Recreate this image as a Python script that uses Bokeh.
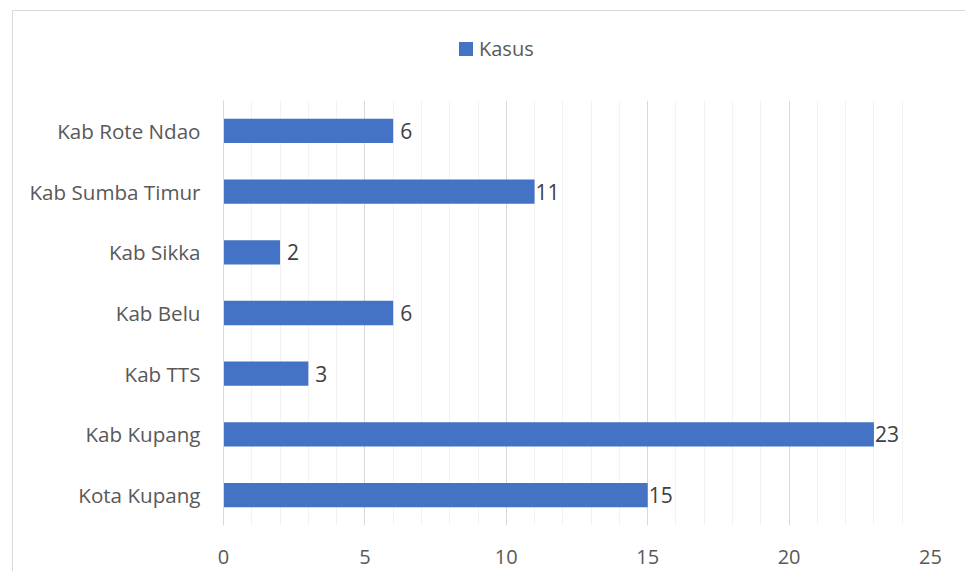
from bokeh.plotting import figure
from bokeh.models import (FactorRange, Range1d, SingleIntervalTicker, ColumnDataSource, Div)
from bokeh.layouts import column
from bokeh.core.properties import value
from bokeh.embed import file_html
from bokeh.resources import INLINE

categories = ["Kota Kupang", "Kab Kupang", "Kab TTS", "Kab Belu", "Kab Sikka",
              "Kab Sumba Timur", "Kab Rote Ndao"]
kasus = [15, 23, 3, 6, 2, 11, 6]
x_ticks = [0, 5, 10, 15, 20, 25]
series_name = "Kasus"

FONT = "Open Sans"
BAR = "#4472C4"

src = ColumnDataSource(dict(cat=categories, val=kasus, lab=[str(v) for v in kasus]))

legend_div = Div(
    width=952, height=76, margin=0,
    text=(
        f'<div style="display:flex;align-items:center;margin-left:446px;margin-top:26px;'
        f'height:24px;font-family:\'{FONT}\';font-size:20px;color:#595959;white-space:nowrap;">'
        f'<span style="display:inline-block;width:14px;height:14px;background:{BAR};'
        f'margin-right:6px;"></span><span>{series_name}</span></div>'
    ),
)

p = figure(width=952, height=484, output_backend="svg", toolbar_location=None,
           y_range=FactorRange(*categories, range_padding=0),
           x_range=Range1d(x_ticks[0], x_ticks[-1]),
           min_border_left=210, min_border_right=35, min_border_top=13,
           min_border_bottom=46, margin=0)
p.outline_line_color = None

p.hbar(y="cat", right="val", left=0, height=0.4, source=src,
       fill_color=BAR, line_color=None)
p.text(x="val", y="cat", text="lab", source=src, x_offset=13,
       text_align="center", text_baseline="middle", text_color="#404040",
       text_font=value(FONT), text_font_size="21px")

p.xaxis.ticker = SingleIntervalTicker(interval=5, num_minor_ticks=5)
p.xaxis.axis_line_color = None
p.xaxis.major_tick_line_color = None
p.xaxis.minor_tick_line_color = None
p.xaxis.major_label_standoff = 18
p.xaxis.major_label_text_font = FONT
p.xaxis.major_label_text_font_size = "20px"
p.xaxis.major_label_text_color = "#595959"

p.yaxis.axis_line_color = "#d9d9d9"
p.yaxis.major_tick_line_color = None
p.yaxis.minor_tick_line_color = None
p.yaxis.major_label_standoff = 17
p.yaxis.major_label_text_font = FONT
p.yaxis.major_label_text_font_size = "20.6px"
p.yaxis.major_label_text_color = "#595959"

p.ygrid.grid_line_color = None
p.xgrid.grid_line_color = "#d9d9d9"
p.xgrid.minor_grid_line_color = "#f2f2f2"

layout = column(legend_div, p, spacing=0)
layout.styles = {"margin-left": "12px", "margin-top": "10px",
                 "border-left": "1px solid #d9d9d9", "border-top": "1px solid #d9d9d9"}

open("out.html", "w").write(file_html(layout, INLINE))
